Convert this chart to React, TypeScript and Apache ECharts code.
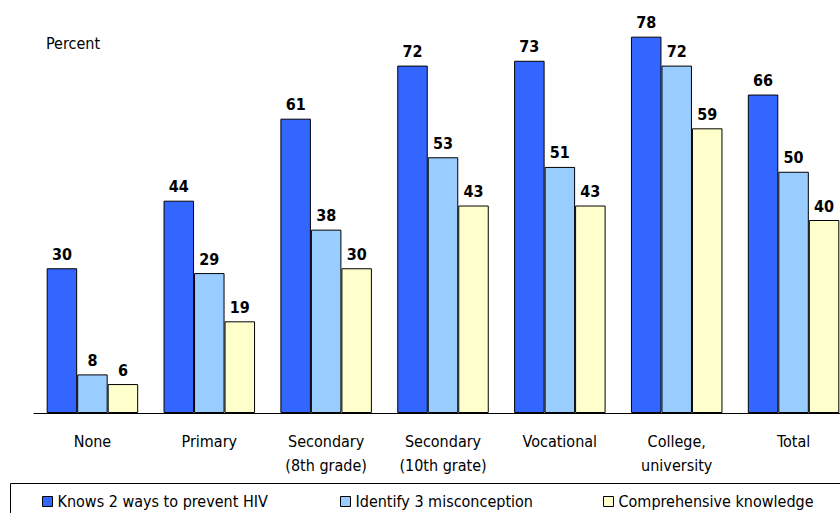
import React, { useEffect, useRef } from "react";
import * as echarts from "echarts";

const categories = [
  "None",
  "Primary",
  "Secondary\n(8th grade)",
  "Secondary\n(10th grate)",
  "Vocational",
  "College,\nuniversity",
  "Total",
];
const seriesNames = [
  "Knows 2 ways to prevent HIV",
  "Identify 3 misconception",
  "Comprehensive knowledge",
];
const knows = [30, 44, 61, 72, 73, 78, 66];
const identify = [8, 29, 38, 53, 51, 72, 50];
const comprehensive = [6, 19, 30, 43, 43, 59, 40];
const colors = ["#3366FF", "#99CCFF", "#FFFFCC"];

const FONT = '"DejaVu Sans Condensed", "Liberation Sans Narrow", "DejaVu Sans"';

export default function App() {
  const ref = useRef<HTMLDivElement>(null);
  useEffect(() => {
    if (!ref.current) return;
    document.body.style.margin = "0";
    document.body.style.overflow = "hidden";
    document.documentElement.style.overflow = "hidden";
    const chart = echarts.init(ref.current, undefined, { renderer: "svg" });
    const values = [knows, identify, comprehensive];
    const legendLefts = [42, 340, 603];
    chart.setOption({
      animation: false,
      grid: { left: 34, top: 27, bottom: 100, right: 0 },
      xAxis: {
        type: "category",
        data: categories,
        axisLine: { show: true, lineStyle: { color: "#000", width: 1 } },
        axisTick: { show: false },
        axisLabel: {
          color: "#000",
          fontFamily: FONT,
          fontSize: 16,
          lineHeight: 24,
          margin: 16,
          interval: 0,
        },
      },
      yAxis: {
        type: "value",
        min: 0,
        max: 80,
        show: false,
        splitLine: { show: false },
      },
      legend: seriesNames.map((n, i) => ({
        data: [n],
        left: legendLefts[i],
        top: 493.5,
        padding: 0,
        itemWidth: 10,
        itemHeight: 10,
        icon: "rect",
        itemStyle: { borderColor: "#000", borderWidth: 1 },
        textStyle: { color: "#000", fontFamily: FONT, fontSize: 16, lineHeight: 16 },
        selectedMode: false,
      })),
      graphic: [
        {
          type: "rect",
          shape: { x: 10.5, y: 483.5, width: 850, height: 60 },
          style: { fill: "none", stroke: "#000", lineWidth: 1 },
          silent: true,
        },
        {
          type: "text",
          left: 46,
          top: 35,
          style: { text: "Percent", fill: "#000", font: `16px ${FONT}` },
        },
      ],
      series: seriesNames.map((n, i) => ({
        name: n,
        type: "bar",
        data: values[i],
        barWidth: 30.5,
        barGap: "0%",
        itemStyle: { color: colors[i], borderColor: "#000", borderWidth: 1 },
        label: {
          show: true,
          position: "top",
          distance: 6,
          color: "#000",
          fontFamily: FONT,
          fontSize: 16,
          fontWeight: "bold",
        },
      })),
    });
    return () => chart.dispose();
  }, []);
  return <div ref={ref} style={{ width: 852, height: 513 }} />;
}
